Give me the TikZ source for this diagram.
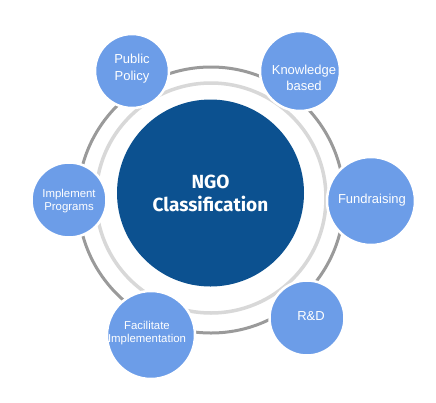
\documentclass[tikz,border=0pt]{standalone}
\usepackage{fontspec}
\setmainfont{Fira Sans}
\newfontfamily\satfont{Liberation Sans}
\definecolor{satblue}{HTML}{6C9DE8}
\definecolor{coreblue}{HTML}{0C5190}
\definecolor{darkring}{HTML}{9A9A9A}
\definecolor{lightring}{HTML}{D8D8D8}
\begin{document}
\begin{tikzpicture}[x=1pt,y=-1pt,
  sat/.style={circle,fill=satblue,draw=white,line width=2.5pt,inner sep=0pt},
  sattext/.style={text=white,font=\satfont\fontsize{13}{16.5}\selectfont,align=center,inner sep=0pt},
  smalltext/.style={text=white,font=\satfont\fontsize{11.4}{13.5}\selectfont,align=center,inner sep=0pt}]
\useasboundingbox (0,0) rectangle (436,402);
\fill[white] (0,0) rectangle (436,402);
% rings
\coordinate (dc) at (211,200);
\coordinate (lc) at (211,198);
\draw[darkring,line width=3pt] (dc) circle[radius=133];
\draw[lightring,line width=3.5pt] (lc) circle[radius=115];
% core
\node[circle,fill=coreblue,minimum size=187pt,inner sep=0pt] (core) at (210.5,193) {};
\node[text=white,font=\bfseries\fontsize{19}{23}\selectfont,align=center,inner sep=0pt] (coretext) at (210.5,193) {NGO\\Classification};
% satellites
\node[sat,minimum size=74pt] (pp) at (132,71) {};
\node[sattext] (pptext) at (132,68.5) {Public\\Policy};
\node[sat,minimum size=80pt] (kb) at (300,71) {};
\node[sattext] (kbtext) at (304,78) {Knowledge\\based};
\node[sat,minimum size=88pt] (fr) at (371,201) {};
\node[sattext] (frtext) at (372,200) {Fundraising};
\node[sat,minimum size=75pt] (rd) at (307,318) {};
\node[sattext] (rdtext) at (311,316) {R\&D};
\node[sat,minimum size=88pt] (fi) at (151,335) {};
\node[smalltext] (fitext) at (147,333) {Facilitate\\Implementation};
\node[sat,minimum size=75pt] (ip) at (69,200) {};
\node[smalltext] (iptext) at (69,201) {Implement\\Programs};
\end{tikzpicture}
\end{document}
